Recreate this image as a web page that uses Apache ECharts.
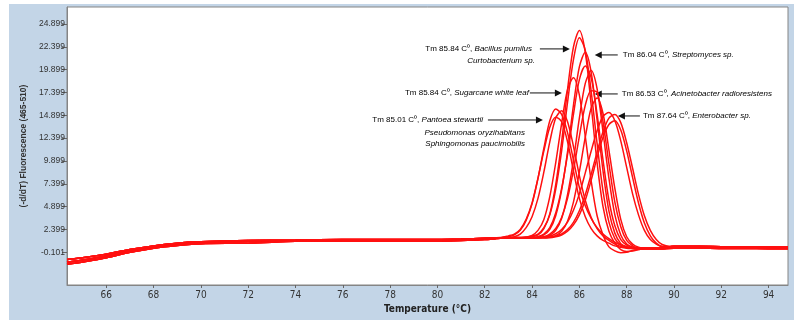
<!DOCTYPE html>
<html>
<head>
<meta charset="utf-8">
<script src="https://cdn.jsdelivr.net/npm/echarts@6.0.0/dist/echarts.min.js"></script>
<style>
  html, body { margin: 0; padding: 0; background: #fff; }
  #wrap { position: relative; width: 794px; height: 320px; background: #fff; }
  #panel { position: absolute; left: 9px; top: 4px; width: 785px; height: 316px; background: #c3d5e7; }
  #chart { position: absolute; left: 0; top: 0; width: 794px; height: 320px; }
</style>
</head>
<body>
<div id="wrap"><div id="panel"></div><div id="chart"></div></div>
<script>
// temperature grid (°C), shared by all melt curves
const temps = [
  64.34, 65, 66, 67, 68, 69, 70, 72, 74, 76, 78, 80, 81, 82, 82.5,
  83, 83.25, 83.5, 83.75, 84, 84.25, 84.5, 84.75, 85, 85.25, 85.5, 85.75,
  86, 86.25, 86.5, 86.75, 87, 87.25, 87.5, 87.75, 88, 88.25, 88.5, 88.75,
  89, 89.25, 89.5,
  90, 91, 92, 93, 94, 94.82
];

// baseline before the peaks (64.34 .. 82.5)
const leftBase = {
  A: [-1.2, -0.95, -0.5, 0.05, 0.5, 0.8, 0.95, 1.1, 1.15, 1.2, 1.2, 1.2, 1.25, 1.35, 1.45],
  B: [-0.9, -0.7, -0.3, 0.2, 0.6, 0.9, 1.05, 1.2, 1.25, 1.3, 1.3, 1.3, 1.35, 1.45, 1.5],
  C: [-1.4, -1.15, -0.7, -0.1, 0.35, 0.65, 0.85, 0.9, 1.1, 1.15, 1.15, 1.15, 1.2, 1.3, 1.4]
};

// baseline after the peaks (90 .. 94.82)
const rightBase = {
  A: [0.45, 0.45, 0.42, 0.42, 0.4, 0.38],
  B: [0.55, 0.55, 0.52, 0.5, 0.5, 0.48],
  C: [0.35, 0.35, 0.32, 0.32, 0.3, 0.3]
};

// peak region values (83 .. 89.5, step 0.25), one row per sample
const peakValues = [
  [1.6, 1.8, 2.3, 3.4, 5.2, 8.0, 11.3, 14.3, 15.6, 15.0, 13.0, 10.0, 7.0, 5.0, 3.6, 2.6, 1.9, 1.4, 1.0, 0.7, 0.5, 0.35, 0.3, 0.3, 0.3, 0.3, 0.3],
  [1.5, 1.6, 1.9, 2.6, 3.8, 5.8, 8.7, 12.0, 14.6, 15.4, 14.2, 11.5, 8.3, 5.6, 3.7, 2.5, 1.7, 1.2, 0.8, 0.55, 0.4, 0.35, 0.35, 0.35, 0.35, 0.35, 0.35],
  [1.7, 1.9, 2.4, 3.5, 5.3, 8.0, 11.0, 13.6, 14.7, 14.2, 12.0, 8.8, 5.8, 3.8, 2.5, 1.7, 1.2, 0.9, 0.6, 0.45, 0.35, 0.3, 0.25, 0.25, 0.25, 0.25, 0.25],
  [1.5, 1.5, 1.5, 1.55, 1.6, 1.8, 2.5, 4.1, 7.3, 12.0, 17.7, 22.4, 24.2, 21.8, 16.0, 9.7, 4.9, 2.2, 0.9, 0.2, 0.0, 0.05, 0.2, 0.3, 0.3, 0.3, 0.3],
  [1.55, 1.55, 1.55, 1.55, 1.7, 1.9, 2.6, 4.0, 6.8, 11.0, 16.3, 21.0, 23.4, 22.0, 17.5, 11.8, 6.6, 3.2, 1.4, 0.7, 0.45, 0.35, 0.35, 0.35, 0.35, 0.35, 0.35],
  [1.5, 1.5, 1.5, 1.57, 1.75, 2.3, 3.5, 6.0, 9.7, 14.0, 17.7, 19.0, 17.1, 12.6, 7.7, 3.9, 1.8, 0.5, 0.05, -0.15, -0.1, 0.1, 0.2, 0.3, 0.3, 0.3, 0.3],
  [1.5, 1.5, 1.5, 1.5, 1.5, 1.58, 1.8, 2.4, 3.9, 6.7, 10.9, 16.0, 20.2, 21.8, 19.6, 14.4, 8.8, 4.4, 2.0, 0.85, 0.5, 0.35, 0.35, 0.35, 0.35, 0.35, 0.35],
  [1.5, 1.5, 1.5, 1.5, 1.5, 1.6, 1.9, 2.6, 4.2, 6.9, 10.6, 15.0, 18.8, 20.3, 19.0, 15.0, 10.0, 5.6, 2.8, 1.3, 0.7, 0.45, 0.4, 0.4, 0.4, 0.4, 0.4],
  [1.5, 1.5, 1.5, 1.5, 1.5, 1.5, 1.57, 1.76, 2.3, 3.6, 6.2, 10.0, 14.6, 18.4, 19.8, 17.8, 13.1, 8.0, 4.0, 1.8, 0.8, 0.45, 0.35, 0.35, 0.35, 0.35, 0.35],
  [1.5, 1.5, 1.5, 1.5, 1.5, 1.5, 1.6, 1.9, 2.5, 3.7, 5.8, 8.9, 12.6, 16.0, 17.6, 17.4, 14.2, 9.6, 5.4, 2.7, 1.2, 0.6, 0.3, 0.3, 0.3, 0.3, 0.3],
  [1.5, 1.5, 1.5, 1.5, 1.5, 1.5, 1.5, 1.56, 1.72, 2.2, 3.3, 5.4, 8.7, 12.5, 15.7, 16.8, 15.1, 11.1, 6.9, 3.5, 1.6, 0.8, 0.45, 0.35, 0.35, 0.35, 0.35],
  [1.5, 1.5, 1.5, 1.5, 1.5, 1.53, 1.57, 1.68, 1.93, 2.4, 3.2, 4.5, 6.3, 8.6, 11.0, 13.2, 14.8, 15.2, 14.3, 12.1, 9.2, 6.3, 4.0, 2.3, 1.3, 0.8, 0.5],
  [1.5, 1.5, 1.5, 1.5, 1.5, 1.5, 1.5, 1.57, 1.68, 1.92, 2.38, 3.18, 4.45, 6.2, 8.45, 10.9, 13.1, 14.6, 15.0, 14.1, 11.9, 9.1, 6.25, 3.9, 2.3, 1.3, 0.75],
  [1.5, 1.5, 1.5, 1.5, 1.5, 1.5, 1.5, 1.5, 1.6, 1.8, 2.2, 2.9, 4.0, 5.6, 7.8, 10.3, 12.5, 13.9, 14.3, 13.3, 11.0, 8.1, 5.3, 3.1, 1.7, 0.9, 0.55]
];
const baseOf = ['A', 'B', 'C', 'A', 'B', 'C', 'A', 'B', 'C', 'A', 'B', 'C', 'A', 'B'];

const xTicks = [66, 68, 70, 72, 74, 76, 78, 80, 82, 84, 86, 88, 90, 92, 94];
const yTicks = [-0.101, 2.399, 4.899, 7.399, 9.899, 12.399, 14.899, 17.399, 19.899, 22.399, 24.899];

// annotations: arrow tip in data coords, arrow dx, text lines [dx, dy, align, normal, italic]
const notes = [
  { tip: [85.60, 22.17], arrow: -30, lines: [[-38, 0, 'right', 'Tm 85.84 C⁰, ', 'Bacillus pumilus'], [-35, 12, 'right', '', 'Curtobacterium sp.']] },
  { tip: [85.26, 17.35], arrow: -32, lines: [[-33, 0, 'right', 'Tm 85.84 C⁰, ', 'Sugarcane white leaf']] },
  { tip: [84.46, 14.39], arrow: -55, lines: [[-60, 0, 'right', 'Tm 85.01 C⁰, ', 'Pantoea stewartii'], [-18, 13, 'right', '', 'Pseudomonas oryzihabitans'], [-18, 24, 'right', '', 'Sphingomonas paucimobilis']] },
  { tip: [86.65, 21.51], arrow: 23, lines: [[28, 0, 'left', 'Tm 86.04 C⁰, ', 'Streptomyces sp.']] },
  { tip: [86.65, 17.24], arrow: 23, lines: [[27, 0, 'left', 'Tm 86.53 C⁰, ', 'Acinetobacter radioresistens']] },
  { tip: [87.63, 14.83], arrow: 22, lines: [[25, 0, 'left', 'Tm 87.64 C⁰, ', 'Enterobacter sp.']] }
];

const narrow = "'Liberation Sans Narrow', 'DejaVu Sans Condensed', Arial, sans-serif";
const sans = "'Liberation Sans', Arial, sans-serif";

const chart = echarts.init(document.getElementById('chart'));

const series = peakValues.map((peak, i) => {
  const b = baseOf[i];
  const ys = leftBase[b].concat(peak, rightBase[b]);
  return {
    type: 'line',
    data: temps.map((t, j) => [t, ys[j]]),
    smooth: 0.3,
    showSymbol: false,
    silent: true,
    lineStyle: { color: '#ff1010', width: 1.5 }
  };
});

chart.setOption({
  animation: false,
  grid: {
    left: 67, right: 6, top: 7, bottom: 35,
    show: true, backgroundColor: '#fff', borderColor: '#858585', borderWidth: 1
  },
  xAxis: {
    type: 'value',
    min: 64.34, max: 94.82,
    name: 'Temperature (°C)',
    nameLocation: 'middle',
    nameGap: 13,
    nameTextStyle: { fontFamily: narrow, fontSize: 10, fontWeight: 'bold', color: '#222' },
    axisLine: { show: true, onZero: false, lineStyle: { color: '#858585' } },
    axisTick: { show: true, length: 3, customValues: xTicks, lineStyle: { color: '#666' } },
    axisLabel: { customValues: xTicks, margin: 5, fontFamily: narrow, fontSize: 10, color: '#333' },
    splitLine: { show: false }
  },
  yAxis: {
    type: 'value',
    min: -3.68, max: 26.76,
    name: '(-d/dT) Fluorescence (465-510)',
    nameLocation: 'middle',
    nameRotate: 90,
    nameGap: 37,
    nameTextStyle: { fontFamily: sans, fontSize: 8.5, fontWeight: 'bold', color: '#333' },
    axisLine: { show: true, onZero: false, lineStyle: { color: '#858585' } },
    axisTick: { show: true, length: 5, customValues: yTicks, lineStyle: { color: '#666' } },
    axisLabel: {
      customValues: yTicks, margin: 2, fontFamily: sans, fontSize: 8.5, color: '#333',
      formatter: v => v.toFixed(3)
    },
    splitLine: { show: false }
  },
  series: series
});

// place annotations from data coordinates
const rich = {
  n: { fontFamily: sans, fontSize: 8, color: '#222' },
  i: { fontFamily: sans, fontSize: 8, fontStyle: 'italic', color: '#222' }
};
const elements = [];
notes.forEach(note => {
  const [px, py] = chart.convertToPixel({ gridIndex: 0 }, note.tip);
  const sx = px + note.arrow;
  const dir = note.arrow < 0 ? 1 : -1;
  elements.push({
    type: 'line', silent: true,
    shape: { x1: sx, y1: py, x2: px - dir * 5, y2: py },
    style: { stroke: '#111', lineWidth: 1 }
  });
  elements.push({
    type: 'polygon', silent: true,
    shape: { points: [[px, py], [px - dir * 7, py - 3.5], [px - dir * 7, py + 3.5]] },
    style: { fill: '#111' }
  });
  note.lines.forEach(l => {
    const txt = (l[3] ? '{n|' + l[3] + '}' : '') + '{i|' + l[4] + '}';
    elements.push({
      type: 'text', silent: true,
      x: px + l[0], y: py + l[1],
      style: { text: txt, rich: rich, align: l[2], verticalAlign: 'middle', textAlign: l[2], textVerticalAlign: 'middle' }
    });
  });
});
chart.setOption({ graphic: { elements: elements } });
</script>
</body>
</html>
